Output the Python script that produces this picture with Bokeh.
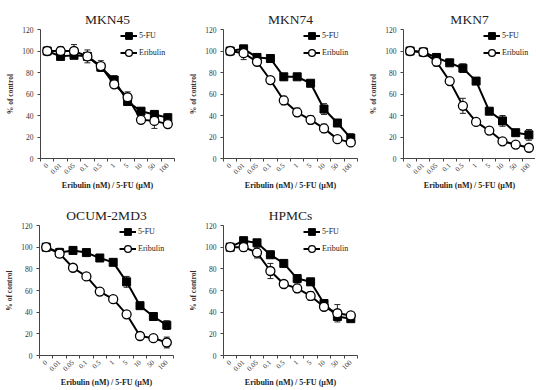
from bokeh.plotting import figure
from bokeh.models import (ColumnDataSource, FixedTicker, Legend, LegendItem,
                          Whisker, TeeHead, Range1d)
from bokeh.layouts import column, row
from bokeh.embed import file_html
from bokeh.resources import INLINE

# ---------------- data ----------------
doses = ["0", "0.01", "0.05", "0.1", "0.5", "1", "5", "10", "50", "100"]

mkn45_fu = [100, 95, 96, 95, 85, 73, 53, 44, 41, 38]
mkn45_fu_err = [1, 2, 2, 3, 3, 4, 3, 3, 3, 2]
mkn45_eri = [100, 100, 100, 95, 86, 69, 57, 36, 35, 32]
mkn45_eri_err = [1, 4, 6, 6, 5, 3, 5, 3, 7, 2]

mkn74_fu = [100, 102, 94, 93, 76, 76, 70, 46, 33, 19]
mkn74_fu_err = [1, 3, 3, 2, 3, 2, 2, 5, 2, 4]
mkn74_eri = [100, 98, 90, 73, 54, 43, 36, 28, 18, 15]
mkn74_eri_err = [1, 6, 3, 3, 4, 4, 4, 4, 2, 3]

mkn7_fu = [100, 99, 94, 89, 84, 72, 44, 35, 24, 22]
mkn7_fu_err = [1, 4, 3, 2, 4, 2, 2, 5, 2, 5]
mkn7_eri = [100, 99, 90, 72, 49, 34, 26, 16, 13, 10]
mkn7_eri_err = [1, 3, 4, 2, 7, 2, 3, 2, 2, 2]

ocum_fu = [100, 95, 97, 95, 90, 86, 68, 46, 36, 28]
ocum_fu_err = [1, 4, 3, 2, 2, 2, 5, 2, 3, 4]
ocum_eri = [100, 94, 81, 73, 59, 52, 38, 18, 16, 12]
ocum_eri_err = [1, 3, 2, 2, 2, 2, 3, 2, 2, 5]

hpmc_fu = [100, 106, 104, 93, 85, 71, 68, 48, 36, 34]
hpmc_fu_err = [1, 2, 2, 2, 2, 2, 3, 2, 3, 2]
hpmc_eri = [100, 100, 95, 78, 66, 62, 55, 45, 39, 37]
hpmc_eri_err = [1, 4, 5, 7, 2, 4, 4, 3, 8, 2]

SERIF = "Liberation Serif"


def make_panel(name, fu, fu_err, eri, eri_err, width, height,
               left, right, top, bottom):
    x = list(range(len(doses)))
    frame_h = height - top - bottom
    p = figure(width=width, height=height, output_backend="svg",
               toolbar_location=None, x_range=Range1d(-0.5, 9.5),
               y_range=Range1d(0, 120),
               min_border_left=left, min_border_right=right,
               min_border_top=top, min_border_bottom=bottom)
    p.title.text = name
    p.title.align = "center"
    p.title.text_font = SERIF
    p.title.text_font_size = "13.5px"
    p.title.text_font_style = "normal"
    p.title.text_color = "#222222"
    p.title.standoff = 5
    p.outline_line_color = None
    p.grid.visible = False
    p.background_fill_color = "white"
    p.border_fill_color = "white"

    src = ColumnDataSource(dict(
        x=x, fu=fu, eri=eri,
        fu_lo=[v - e for v, e in zip(fu, fu_err)],
        fu_hi=[v + e for v, e in zip(fu, fu_err)],
        eri_lo=[v - e for v, e in zip(eri, eri_err)],
        eri_hi=[v + e for v, e in zip(eri, eri_err)],
    ))
    for lo, hi in (("fu_lo", "fu_hi"), ("eri_lo", "eri_hi")):
        w = Whisker(source=src, base="x", lower=lo, upper=hi,
                    line_color="#222222", line_width=1,
                    upper_head=TeeHead(size=6, line_color="#222222", line_width=1),
                    lower_head=TeeHead(size=6, line_color="#222222", line_width=1))
        p.add_layout(w)

    l_fu = p.line("x", "fu", source=src, line_color="black", line_width=2)
    l_eri = p.line("x", "eri", source=src, line_color="black", line_width=2)
    m_fu = p.scatter("x", "fu", source=src, marker="square", size=8,
                     fill_color="black", line_color="black")
    m_eri = p.scatter("x", "eri", source=src, marker="circle", size=9,
                      fill_color="white", line_color="black", line_width=1.3)

    legend = Legend(items=[LegendItem(label="5-FU", renderers=[l_fu, m_fu]),
                           LegendItem(label="Eribulin", renderers=[l_eri, m_eri])],
                    location=(80, frame_h - 36), padding=0, margin=0, spacing=0,
                    glyph_width=17, glyph_height=17, label_height=17,
                    label_standoff=2, border_line_color=None,
                    background_fill_alpha=0,
                    label_text_font=SERIF, label_text_font_size="8px",
                    label_text_color="#222222")
    p.add_layout(legend)

    # x axis
    xa = p.xaxis[0]
    xa.ticker = FixedTicker(ticks=x, minor_ticks=[i - 0.5 for i in range(len(doses) + 1)])
    xa.major_label_overrides = {i: d for i, d in enumerate(doses)}
    xa.major_label_orientation = 0.785398
    xa.major_tick_out = 0
    xa.major_tick_in = 0
    xa.minor_tick_out = 3
    xa.minor_tick_in = 0
    xa.major_label_standoff = 3
    xa.major_label_text_font = SERIF
    xa.major_label_text_font_size = "7px"
    xa.major_label_text_color = "#333333"
    xa.axis_label = "Eribulin (nM) / 5-FU (\u00b5M)"
    xa.axis_label_text_font = SERIF
    xa.axis_label_text_font_size = "8px"
    xa.axis_label_text_font_style = "bold"
    xa.axis_label_text_color = "#222222"
    xa.axis_label_standoff = 2
    xa.axis_line_color = "#444444"
    xa.minor_tick_line_color = "#444444"

    # y axis
    ya = p.yaxis[0]
    ya.ticker = FixedTicker(ticks=[0, 20, 40, 60, 80, 100, 120], minor_ticks=[])
    ya.major_tick_out = 3
    ya.major_tick_in = 0
    ya.minor_tick_out = 0
    ya.minor_tick_in = 0
    ya.major_label_standoff = 4
    ya.major_label_text_font = SERIF
    ya.major_label_text_font_size = "7.5px"
    ya.major_label_text_color = "#333333"
    ya.axis_label = "% of control"
    ya.axis_label_text_font = SERIF
    ya.axis_label_text_font_size = "7.5px"
    ya.axis_label_text_font_style = "bold"
    ya.axis_label_text_color = "#3d2b1f"
    ya.axis_label_standoff = 4
    ya.axis_line_color = "#444444"
    ya.major_tick_line_color = "#444444"
    return p


p1 = make_panel("MKN45", mkn45_fu, mkn45_fu_err, mkn45_eri, mkn45_eri_err,
                180, 192, 40, 6, 29, 30)
p2 = make_panel("MKN74", mkn74_fu, mkn74_fu_err, mkn74_eri, mkn74_eri_err,
                180, 192, 43, 3, 29, 30)
p3 = make_panel("MKN7", mkn7_fu, mkn7_fu_err, mkn7_eri, mkn7_eri_err,
                175, 192, 43, 0, 29, 30)
p4 = make_panel("OCUM-2MD3", ocum_fu, ocum_fu_err, ocum_eri, ocum_eri_err,
                180, 197, 39, 7, 33, 30)
p5 = make_panel("HPMCs", hpmc_fu, hpmc_fu_err, hpmc_eri, hpmc_eri_err,
                180, 197, 43, 3, 33, 30)

layout = column(row(p1, p2, p3), row(p4, p5))

open("out.html", "w").write(file_html(layout, INLINE))
